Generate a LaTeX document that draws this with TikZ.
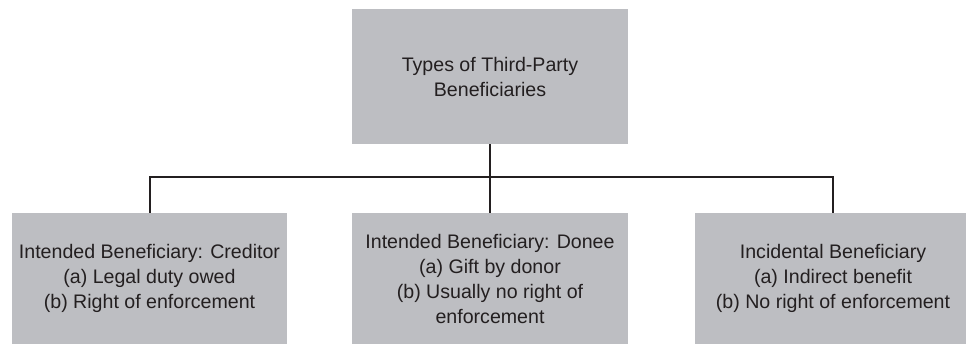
\documentclass[tikz,border=0pt]{standalone}
\usepackage{fontspec}
\setmainfont{Liberation Sans}
\definecolor{boxgray}{RGB}{189,190,194}
\definecolor{ink}{RGB}{35,31,32}
\begin{document}
\begin{tikzpicture}[x=1pt,y=-1pt,
  box/.style={fill=boxgray, draw=none, align=center, text=ink,
    font=\fontsize{19.6}{25}\selectfont, inner sep=0pt},
  link/.style={draw=ink, line width=2pt}]
\useasboundingbox (0,0) rectangle (966,344);
\clip (0,0) rectangle (966,344);
\node[box, minimum width=276, minimum height=135] (top) at (490,76.5)
  {Types of Third-Party\\Beneficiaries};
\node[box, minimum width=275, minimum height=131] (cred) at (149.5,278.5)
  {Intended Beneficiary: Creditor\\(a) Legal duty owed\\(b) Right of enforcement};
\node[box, minimum width=276, minimum height=131] (donee) at (490,278.5)
  {Intended Beneficiary: Donee\\(a) Gift by donor\\(b) Usually no right of\\enforcement};
\node[box, minimum width=276, minimum height=131] (incid) at (833,278.5)
  {Incidental Beneficiary\\(a) Indirect benefit\\(b) No right of enforcement};
\coordinate (bus) at (490,177);
\draw[link] (top.south) -- (donee.north);
\draw[link] (cred.north) |- (bus) -| (incid.north);
\end{tikzpicture}
\end{document}
